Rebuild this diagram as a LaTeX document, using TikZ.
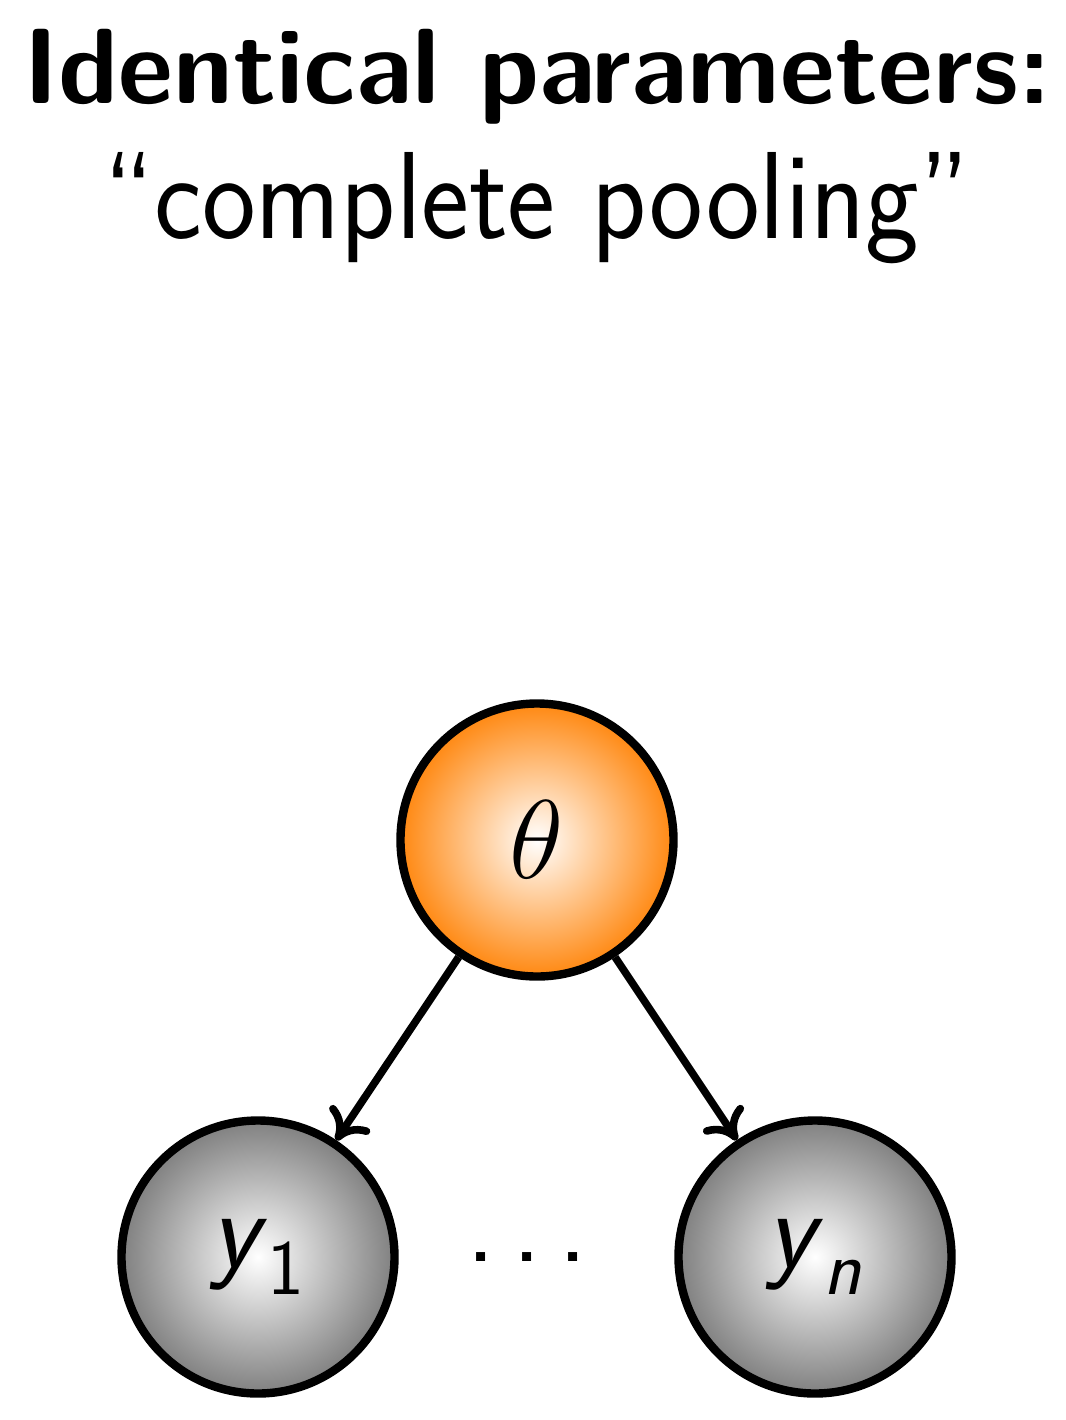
\documentclass[tikz,border=0pt]{standalone}
\usepackage{fix-cm}
\usepackage{amsmath}
\usepackage{fontspec}
\usetikzlibrary{arrows.meta}
\newfontfamily\sansbig{lmsans17-regular}[Extension=.otf]
\begin{document}
\begin{tikzpicture}[x=0.5pt,y=-0.5pt,
  var/.style={circle,draw=black,line width=4.2pt,minimum size=136.5pt,inner sep=0pt},
  param/.style={var,inner color=white,outer color={rgb,255:red,255;green,136;blue,17}},
  obs/.style={var,inner color=white,outer color={rgb,255:red,128;green,128;blue,128}},
  edge/.style={line width=3.8pt,-{Computer Modern Rightarrow[length=14pt,width=24pt]}},
  mathlbl/.style={font=\fontsize{56}{60}\selectfont}
]
\useasboundingbox (0,0) rectangle (1066,1420);
\node[anchor=base,font=\fontsize{53.5}{60}\selectfont\sffamily\bfseries,inner sep=0pt] (title) at (537,103) {Identical parameters:};
\node[anchor=base,font=\fontsize{62}{70}\selectfont\sansbig,inner sep=0pt] (sub) at (537,238) {\scalebox{0.92}[1]{“complete pooling”}};
\node[param,mathlbl] (theta) at (537,840) {$\theta$};
\node[obs,mathlbl] (y1) at (258,1257) {$\textsf{\textit{y}}_{\textsf{1}}$};
\node[obs,mathlbl] (yn) at (815,1257) {$\textsf{\textit{y}}_{\textsf{\textit{n}}}$};
\node[font=\fontsize{56}{60}\selectfont\sffamily,inner sep=0pt] (dots) at (527,1257) {.\hspace{0.15em}.\hspace{0.15em}.};
\draw[edge] (theta) -- (y1);
\draw[edge] (theta) -- (yn);
\end{tikzpicture}
\end{document}
